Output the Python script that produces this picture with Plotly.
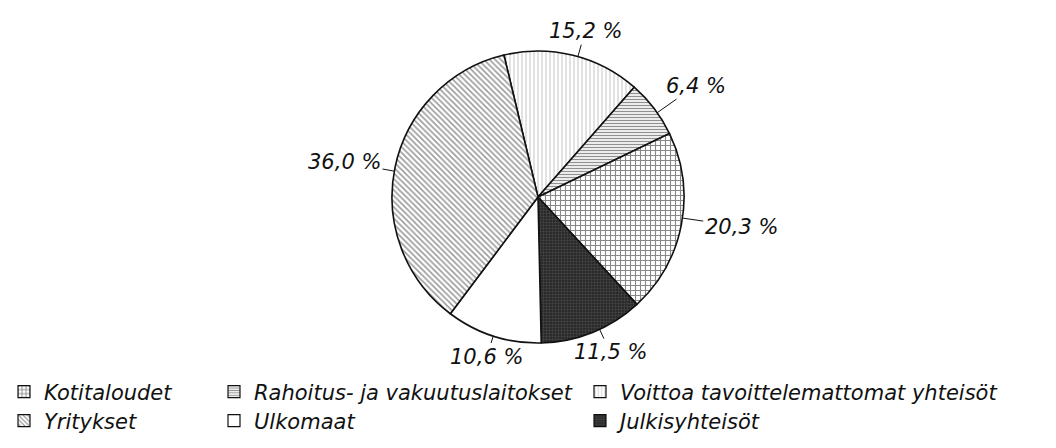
import math
import plotly.graph_objects as go

# Data (clockwise from the top, as in the reference)
labels = ["Voittoa tavoittelemattomat yhteisöt", "Rahoitus- ja vakuutuslaitokset",
          "Kotitaloudet", "Julkisyhteisöt", "Ulkomaat", "Yritykset"]
values = [15.2, 6.4, 20.3, 11.5, 10.6, 36.0]
value_text = ["15,2 %", "6,4 %", "20,3 %", "11,5 %", "10,6 %", "36,0 %"]

# legend layout by column
legend_cols = [["Kotitaloudet", "Yritykset"],
               ["Rahoitus- ja vakuutuslaitokset", "Ulkomaat"],
               ["Voittoa tavoittelemattomat yhteisöt", None, "Julkisyhteisöt"]]

W, H = 1056, 448
CX, CY, R = 530, 189, 146
ROT = -13.5

# label placement tweaks (angle nudge in degrees, leader length in px)
label_nudge = [2, 2, -2.5, -3, 0, -1.5]
label_len = [15, 28, 23, 13, 10, 14]

styles = {
    "Voittoa tavoittelemattomat yhteisöt": dict(bgcolor="white", fgcolor="#7a7a7a", shape="|", size=4, solidity=0.22),
    "Rahoitus- ja vakuutuslaitokset": dict(bgcolor="white", fgcolor="#222", shape="-", size=3, solidity=0.45),
    "Kotitaloudet": dict(bgcolor="white", fgcolor="#111", shape="+", size=5, solidity=0.4),
    "Julkisyhteisöt": dict(bgcolor="#2a2a2a", fgcolor="#6a6a6a", shape="+", size=3, solidity=0.3),
    "Ulkomaat": dict(bgcolor="white", fgcolor="white", shape="", size=4, solidity=0.1),
    "Yritykset": dict(bgcolor="white", fgcolor="#333", shape="\\", size=4, solidity=0.38),
}

FONT = dict(family="DejaVu Sans, Liberation Sans, sans-serif", size=21, color="#111", style="italic")

fig = go.Figure()
fig.add_trace(go.Pie(
    labels=labels, values=values, sort=False, direction="clockwise", rotation=ROT,
    textinfo="none", hoverinfo="label+percent", showlegend=False,
    marker=dict(colors=[styles[l]["bgcolor"] for l in labels],
                line=dict(color="#111", width=1.6),
                pattern=dict(shape=[styles[l]["shape"] for l in labels],
                             fgcolor=[styles[l]["fgcolor"] for l in labels],
                             bgcolor=[styles[l]["bgcolor"] for l in labels],
                             size=[styles[l]["size"] for l in labels],
                             solidity=[styles[l]["solidity"] for l in labels],
                             fillmode="overlay")),
    domain=dict(x=[(CX - R) / W, (CX + R) / W], y=[1 - (CY + R) / H, 1 - (CY - R) / H]),
))

# Outside labels with short leader lines, placed near each slice's mid angle
total = sum(values)
start = ROT
annotations = []
for v, t, nudge, L in zip(values, value_text, label_nudge, label_len):
    mid = start + 360 * v / total / 2 + nudge
    start += 360 * v / total
    a = math.radians(mid)
    ux, uy = math.sin(a), -math.cos(a)
    px, py = CX + R * ux, CY + R * uy
    hw, hh = 36, 11
    edge = min(hw / abs(ux) if abs(ux) > 1e-6 else 1e9, hh / abs(uy) if abs(uy) > 1e-6 else 1e9)
    annotations.append(dict(x=px / W, y=1 - py / H, xref="paper", yref="paper",
                            text=t, showarrow=True, arrowhead=0, arrowwidth=1,
                            arrowcolor="#111", standoff=0, startstandoff=0,
                            ax=ux * (L + edge), ay=uy * (L + edge), font=FONT))

# Legend: dummy bar traces with patterns, each in its own positioned legend
col_x = [-4, 206, 572]
row_y = [384, 413]
idx = 0
for ci, col in enumerate(legend_cols):
    for ri, name in enumerate(col):
        if name is None:
            continue
        row = 0 if ri == 0 else 1
        idx += 1
        lname = "legend" if idx == 1 else f"legend{idx}"
        s = styles[name]
        fig.add_trace(go.Bar(x=[None], y=[None], name=name, legend=lname, showlegend=True,
                             marker=dict(color=s["bgcolor"], line=dict(color="#111", width=1.2),
                                         pattern=dict(shape=s["shape"], fgcolor=s["fgcolor"],
                                                      bgcolor=s["bgcolor"], size=s["size"],
                                                      solidity=s["solidity"], fillmode="overlay"))))
        fig.update_layout(**{lname: dict(x=col_x[ci] / W, y=1 - row_y[row] / H,
                                         xanchor="left", yanchor="middle",
                                         font=FONT, bgcolor="rgba(0,0,0,0)",
                                         itemclick=False, itemdoubleclick=False)})

fig.update_layout(
    width=W, height=H, margin=dict(l=0, r=0, t=0, b=0, autoexpand=False),
    paper_bgcolor="white", plot_bgcolor="white",
    xaxis=dict(visible=False), yaxis=dict(visible=False),
    annotations=annotations,
)

fig.write_html("out.html")
